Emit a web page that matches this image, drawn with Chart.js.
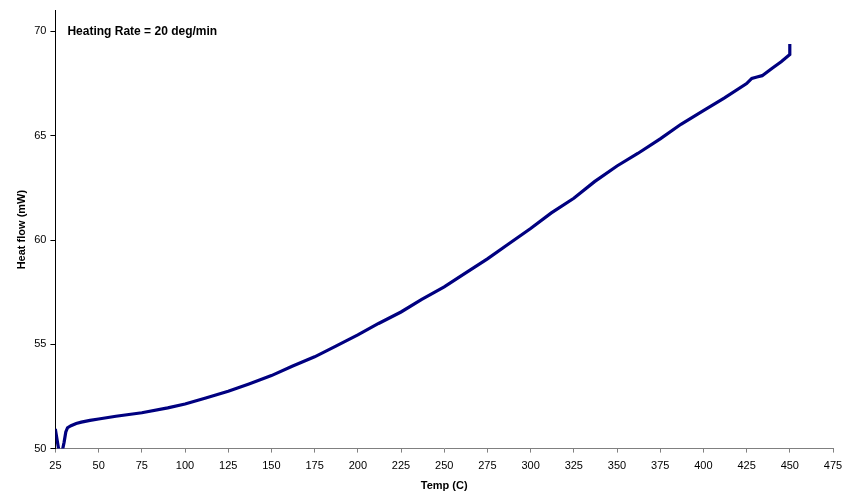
<!DOCTYPE html>
<html>
<head>
<meta charset="utf-8">
<script src="https://cdn.jsdelivr.net/npm/chart.js@4"></script>
<style>
  body { margin: 0; background: #fff; }
  #wrap { width: 853px; height: 492px; }
</style>
</head>
<body>
<div id="wrap"><canvas id="myChart" width="853" height="492"></canvas></div>
<script>
const temps = [25, 25, 26, 27, 28, 29, 30, 31, 32, 34, 37, 40, 45, 50, 60, 75, 90, 100, 112, 125, 137, 150, 162, 175, 187, 200, 212, 225, 237, 250, 262, 275, 287, 300, 312, 325, 337, 350, 362, 375, 387, 400, 412, 425, 428, 431, 434, 440, 445, 450, 450];
const heatFlow = [50.95, 50.9, 50.4, 49.9, 49.8, 49.9, 50.3, 50.8, 51.0, 51.1, 51.2, 51.27, 51.35, 51.42, 51.55, 51.72, 51.95, 52.14, 52.43, 52.75, 53.1, 53.5, 53.95, 54.4, 54.9, 55.45, 56.0, 56.55, 57.15, 57.75, 58.4, 59.1, 59.8, 60.55, 61.3, 62.0, 62.8, 63.55, 64.15, 64.85, 65.55, 66.2, 66.8, 67.5, 67.75, 67.82, 67.88, 68.25, 68.55, 68.9, 69.4];
const xTicks = [25, 50, 75, 100, 125, 150, 175, 200, 225, 250, 275, 300, 325, 350, 375, 400, 425, 450, 475];
const yTicks = [50, 55, 60, 65, 70];
const noteText = "Heating Rate = 20 deg/min";

const font = "'Liberation Sans', Arial, sans-serif";

// text in the top left corner of the plot
const notePlugin = {
  id: "note",
  afterDraw(chart) {
    const ctx = chart.ctx;
    const yScale = chart.scales.y;
    ctx.save();
    ctx.font = "bold 12px " + font;
    ctx.fillStyle = "#000";
    ctx.textBaseline = "middle";
    ctx.fillText(noteText, chart.chartArea.left + 12, yScale.getPixelForValue(70));
    ctx.restore();
  },
};

new Chart(document.getElementById("myChart"), {
  type: "scatter",
  data: {
    datasets: [
      {
        label: "Heat flow",
        data: temps.map((t, i) => ({ x: t, y: heatFlow[i] })),
        showLine: true,
        borderColor: "#000080",
        backgroundColor: "#000080",
        borderWidth: 3.2,
        pointRadius: 0,
        tension: 0,
      },
    ],
  },
  options: {
    responsive: false,
    animation: false,
    layout: { padding: { top: 6, right: 20, left: 11, bottom: -1 } },
    plugins: { legend: { display: false }, tooltip: { enabled: false } },
    scales: {
      x: {
        type: "linear",
        min: 25,
        max: 475,
        afterBuildTicks: (scale) => {
          scale.ticks = xTicks.map((v) => ({ value: v }));
        },
        grid: { drawOnChartArea: false, tickLength: 4, color: "#808080" },
        border: { color: "#808080", width: 1 },
        ticks: { color: "#000", font: { family: font, size: 11 }, maxRotation: 0, padding: 7 },
        title: { display: true, text: "Temp (C)", color: "#000", font: { family: font, size: 11, weight: "bold" }, padding: { top: 0, bottom: 0 } },
      },
      y: {
        min: 50,
        max: 71,
        afterBuildTicks: (scale) => {
          scale.ticks = yTicks.map((v) => ({ value: v }));
        },
        grid: { drawOnChartArea: false, tickLength: 5, color: "#000" },
        border: { color: "#000", width: 1 },
        ticks: { color: "#000", font: { family: font, size: 11 }, padding: 4 },
        title: { display: true, text: "Heat flow (mW)", color: "#000", font: { family: font, size: 11, weight: "bold" }, padding: { top: 4, bottom: 2 } },
      },
    },
  },
  plugins: [notePlugin],
});
</script>
</body>
</html>
